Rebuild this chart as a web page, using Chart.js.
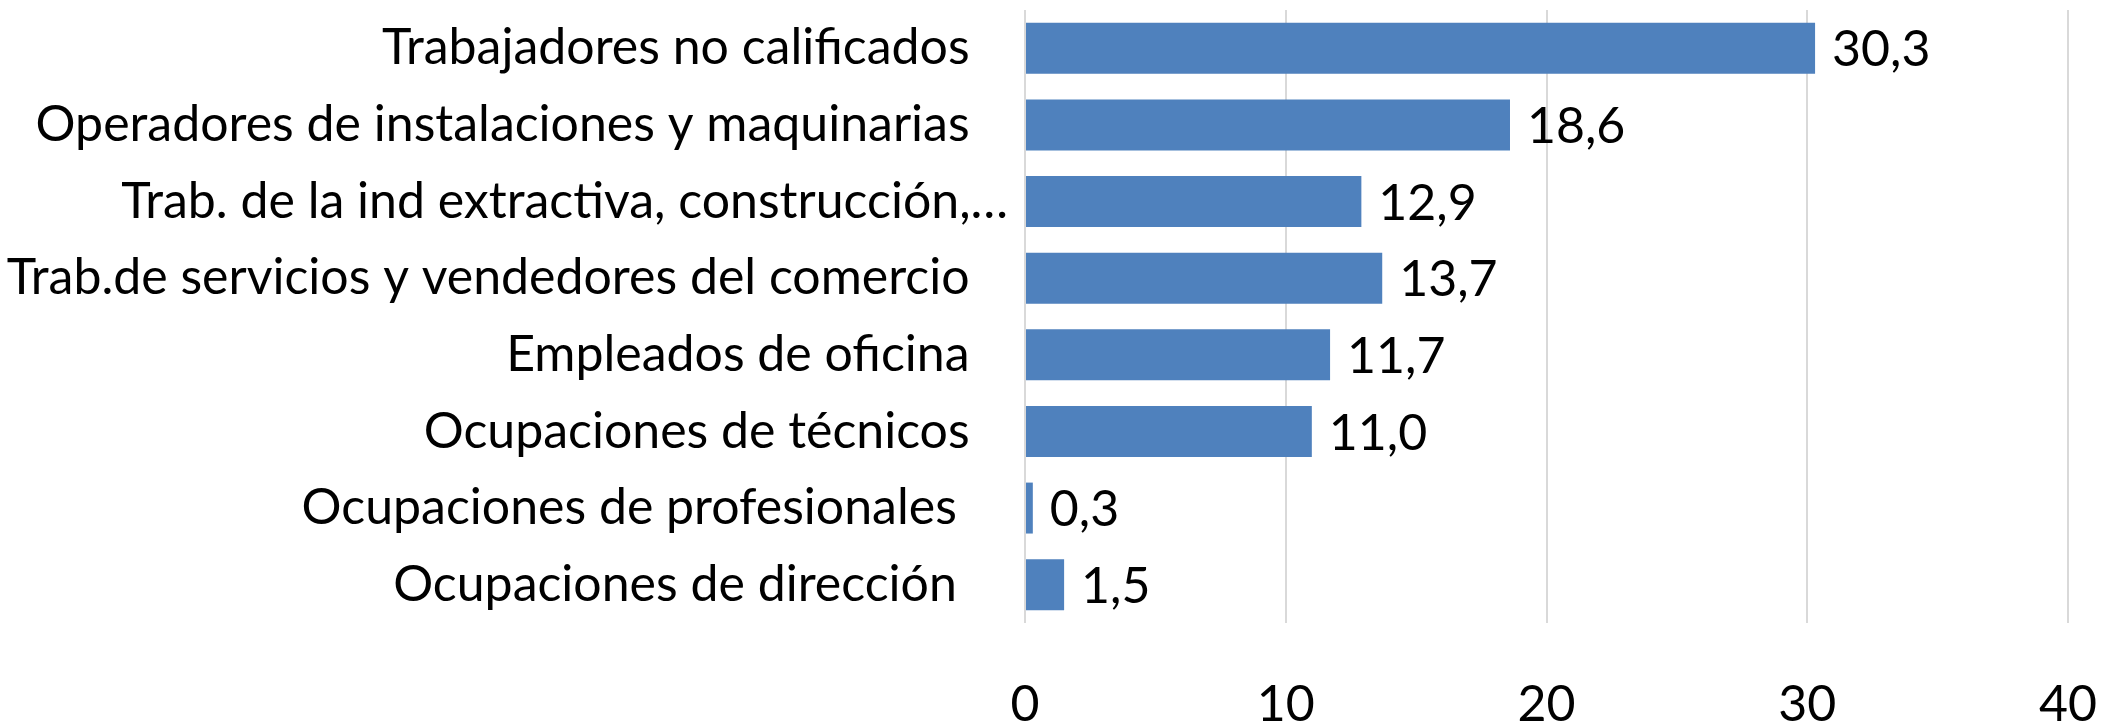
<!DOCTYPE html>
<html lang="es">
    <head>
        <meta charset="UTF-8" />
        <title>Ocupaciones</title>
        <style>
            html, body {
                margin: 0;
                padding: 0;
                background: #ffffff;
            }
            #chart-container {
                width: 2103px;
                height: 722px;
            }
        </style>
    </head>
    <body>
        <div id="chart-container">
            <canvas id="ocupChart" width="2103" height="722"></canvas>
        </div>

        <script src="https://cdn.jsdelivr.net/npm/chart.js"></script>
        <script>
            // categorias (los espacios finales vienen de la hoja original)
            const categorias = [
                "Trabajadores no calificados   ",
                "Operadores de instalaciones y maquinarias   ",
                "Trab. de la ind extractiva, construcción,…",
                "Trab.de servicios y vendedores del comercio   ",
                "Empleados de oficina   ",
                "Ocupaciones de técnicos   ",
                "Ocupaciones de profesionales    ",
                "Ocupaciones de dirección    ",
            ];
            const valores = [30.3, 18.6, 12.9, 13.7, 11.7, 11.0, 0.3, 1.5];
            const ejeX = [0, 10, 20, 30, 40];

            const fuente = "Lato";
            const tamFuente = 50;
            const azul = "#4F81BD";

            // etiquetas de valor al final de cada barra
            const etiquetasValor = {
                id: "etiquetasValor",
                afterDatasetsDraw(chart) {
                    const ctx = chart.ctx;
                    const meta = chart.getDatasetMeta(0);
                    ctx.save();
                    ctx.font = `${tamFuente}px ${fuente}`;
                    ctx.fillStyle = "#000000";
                    ctx.textAlign = "left";
                    ctx.textBaseline = "middle";
                    meta.data.forEach((bar, i) => {
                        const txt = valores[i].toFixed(1).replace(".", ",");
                        ctx.fillText(txt, bar.x + 17, bar.y + 2);
                    });
                    ctx.restore();
                },
            };

            const ctx = document.getElementById("ocupChart").getContext("2d");
            const ocupChart = new Chart(ctx, {
                type: "bar",
                data: {
                    labels: categorias,
                    datasets: [
                        {
                            data: valores,
                            backgroundColor: azul,
                            borderWidth: 0,
                            barPercentage: 0.665,
                            categoryPercentage: 1,
                        },
                    ],
                },
                options: {
                    indexAxis: "y",
                    responsive: false,
                    animation: false,
                    layout: {
                        padding: { top: 10, right: 0, left: 0, bottom: 0 },
                    },
                    plugins: {
                        legend: { display: false },
                        tooltip: { enabled: false },
                    },
                    scales: {
                        x: {
                            min: ejeX[0],
                            max: ejeX[ejeX.length - 1],
                            afterBuildTicks: (axis) => {
                                axis.ticks = ejeX.map((v) => ({ value: v }));
                            },
                            border: { display: false },
                            grid: {
                                color: "#d9d9d9",
                                lineWidth: 2,
                                drawTicks: false,
                            },
                            ticks: {
                                color: "#000000",
                                padding: 52,
                                font: { family: fuente, size: tamFuente },
                            },
                            afterFit: (axis) => {
                                axis.height = 99;
                                axis.paddingLeft = 0;
                                axis.paddingRight = 35;
                            },
                        },
                        y: {
                            border: { display: false },
                            grid: { display: false, drawTicks: false },
                            ticks: {
                                color: "#000000",
                                padding: 17,
                                font: { family: fuente, size: tamFuente },
                            },
                            afterFit: (axis) => {
                                axis.width = 1025;
                                axis.paddingTop = 0;
                                axis.paddingBottom = 0;
                            },
                        },
                    },
                },
                plugins: [etiquetasValor],
            });
        </script>
    </body>
</html>
